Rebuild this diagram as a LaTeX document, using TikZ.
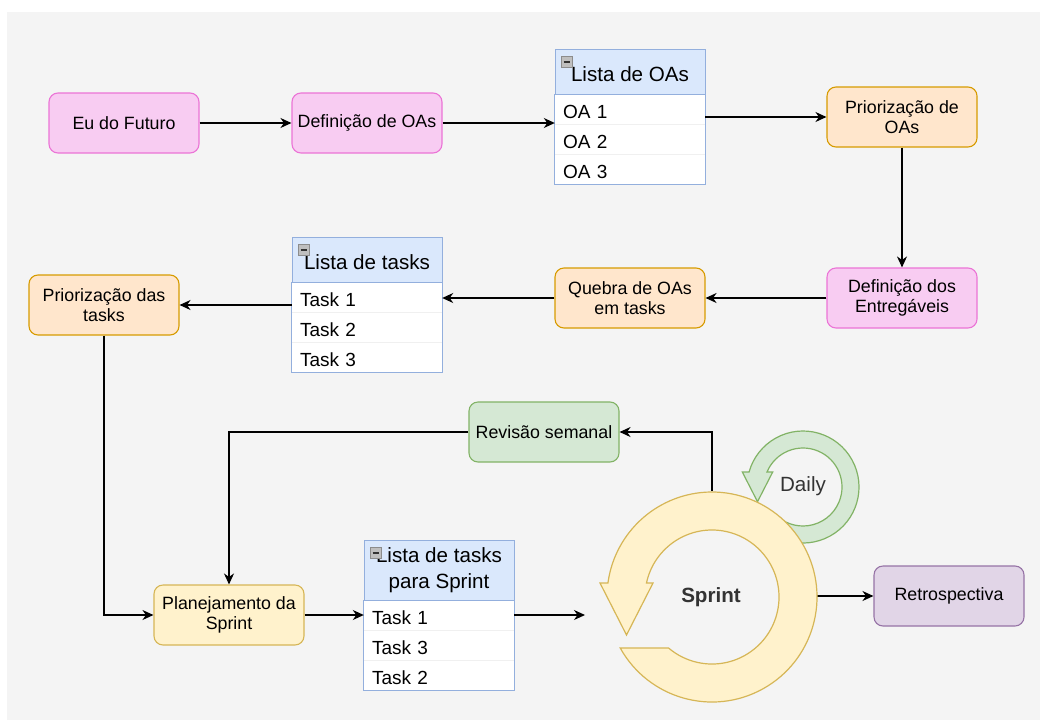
\documentclass[tikz,border=0pt]{standalone}
\usepackage{fontspec}
\setmainfont{Liberation Sans}
\usetikzlibrary{arrows.meta,calc}
\definecolor{bgG}{HTML}{F4F4F4}
\definecolor{pinkF}{HTML}{F8CCF2}
\definecolor{pinkD}{HTML}{EB74D6}
\definecolor{orangeF}{HTML}{FFE6CC}
\definecolor{orangeD}{HTML}{D79B00}
\definecolor{blueH}{HTML}{DAE8FC}
\definecolor{blueD}{HTML}{93AFDD}
\definecolor{greenF}{HTML}{D5E8D4}
\definecolor{greenD}{HTML}{82B366}
\definecolor{yellowF}{HTML}{FFF2CC}
\definecolor{yellowD}{HTML}{D6B656}
\definecolor{purpleF}{HTML}{E1D5E7}
\definecolor{purpleD}{HTML}{9673A6}
\definecolor{ringtext}{HTML}{333333}
\newcommand{\nodefont}{\fontsize{17.8}{20.5}\selectfont}
\newcommand{\rowfont}{\fontsize{19}{22}\selectfont}
\newcommand{\headfont}{\fontsize{20.6}{25}\selectfont}
\newcommand{\ringfont}{\fontsize{20.6}{24}\selectfont}
\begin{document}
\begin{tikzpicture}[x=1pt,y=-1pt,
  box/.style={rounded corners=9pt, minimum width=150pt, minimum height=60pt, align=center, font=\nodefont, line width=1.1pt, inner sep=0pt},
  pinkbox/.style={box, fill=pinkF, draw=pinkD},
  orangebox/.style={box, fill=orangeF, draw=orangeD},
  greenbox/.style={box, fill=greenF, draw=greenD},
  yellowbox/.style={box, fill=yellowF, draw=yellowD},
  purplebox/.style={box, fill=purpleF, draw=purpleD},
  lhead/.style={draw=blueD, fill=blueH, line width=1pt, minimum width=150pt, minimum height=45pt, inner sep=0pt, font=\headfont, text height=19.5pt, text depth=0pt},
  lrow/.style={fill=white, minimum width=150pt, minimum height=30pt, inner ysep=0pt, inner xsep=8pt, text width=134pt, align=left, font=\rowfont, text height=19.6pt, text depth=0pt},
  lsep/.style={draw=black!6, line width=0.8pt},
  lframe/.style={draw=blueD, line width=1pt},
  minusicon/.style={draw=black!45, fill=black!25, minimum size=11pt, inner sep=0pt, line width=0.6pt},
  conn/.style={line width=1.3pt, -{Stealth[length=11pt,width=10pt,inset=3.5pt]}},
  ring/.style={line width=1.2pt}
]
\useasboundingbox (0,0) rectangle (1040,720);
\fill[white] (0,0) rectangle (1040,720);
\fill[bgG] (7,12) rectangle (1040,720);

% top row
\node[pinkbox] (eu) at (124,123) {Eu do Futuro};
\node[pinkbox] (def) at (367,123) {Definição de OAs};

\node[lhead] (loah) at (630,71.5) {Lista de OAs};
\node[lrow] (loa1) at (630,109) {OA 1};
\node[lrow] (loa2) at (630,139) {OA 2};
\node[lrow] (loa3) at (630,169) {OA 3};
\draw[lsep] (loa1.south west) -- (loa1.south east);
\draw[lsep] (loa2.south west) -- (loa2.south east);
\draw[lframe] (loah.south west) rectangle (loa3.south east);
\node[minusicon] (m1) at ($(loah.north west)+(12.5,13.5)$) {};
\draw[line width=1.6pt, black!80] ($(m1.west)+(2.5pt,0)$) -- ($(m1.east)+(-2.5pt,0)$);

\node[orangebox] (prioa) at (902,117) {Priorização de\\OAs};

% second row
\node[pinkbox] (entreg) at (902,298) {Definição dos\\Entregáveis};
\node[orangebox] (quebra) at (630,298) {Quebra de OAs\\em tasks};

\node[lhead] (lth) at (367,259.5) {Lista de tasks};
\node[lrow] (lt1) at (367,297) {Task 1};
\node[lrow] (lt2) at (367,327) {Task 2};
\node[lrow] (lt3) at (367,357) {Task 3};
\draw[lsep] (lt1.south west) -- (lt1.south east);
\draw[lsep] (lt2.south west) -- (lt2.south east);
\draw[lframe] (lth.south west) rectangle (lt3.south east);
\node[minusicon] (m2) at ($(lth.north west)+(12.5,13.5)$) {};
\draw[line width=1.6pt, black!80] ($(m2.west)+(2.5pt,0)$) -- ($(m2.east)+(-2.5pt,0)$);

\node[orangebox] (ptasks) at (104,305) {Priorização das\\tasks};

% lower part
\node[greenbox] (rev) at (544,432) {Revisão semanal};
\node[yellowbox] (plan) at (229,615) {Planejamento da\\Sprint};

\node[draw=blueD, fill=blueH, line width=1pt, minimum width=150pt, minimum height=60pt, inner sep=0pt, font=\headfont] (lsh) at (439,570)
  {\raisebox{-4.5pt}{\begin{tabular}{@{}c@{}}Lista de tasks\\[1pt]para Sprint\end{tabular}}};
\node[lrow] (ls1) at (439,615) {Task 1};
\node[lrow] (ls2) at (439,645) {Task 3};
\node[lrow] (ls3) at (439,675) {Task 2};
\draw[lsep] (ls1.south west) -- (ls1.south east);
\draw[lsep] (ls2.south west) -- (ls2.south east);
\draw[lframe] (lsh.south west) rectangle (ls3.south east);
\node[minusicon] (m3) at ($(lsh.north west)+(12.5,13.5)$) {};
\draw[line width=1.6pt, black!80] ($(m3.west)+(2.5pt,0)$) -- ($(m3.east)+(-2.5pt,0)$);

\node[purplebox] (retro) at (949,596) {Retrospectiva};

\coordinate (sptop) at (712,491);
\coordinate (spright) at (817,596);
\coordinate (sfree) at (585,615);

% connectors
\draw[conn] (eu.east) -- (def.west);
\draw[conn] (def.east) -- (def.east -| loa1.west);
\draw[conn] (prioa.west -| loa1.east) -- (prioa.west);
\draw[conn] (prioa.south) -- (entreg.north);
\draw[conn] (entreg.west) -- (quebra.east);
\draw[conn] (quebra.west) -- (quebra.west -| lt1.east);
\draw[conn] (ptasks.east -| lt1.west) -- (ptasks.east);
\draw[conn] (ptasks.south) |- (plan.west);
\draw[conn] (rev.west) -| (plan.north);
\draw[conn] (sptop) |- (rev.east);
\draw[conn] (plan.east) -- (plan.east -| ls1.west);
\draw[conn] (plan.east -| ls1.east) -- (sfree);
\draw[conn] (spright) -- (retro.west);

% Daily ring
\begin{scope}[shift={(803,487)}]
  \draw[ring, fill=greenF, draw=greenD]
    (208.83:56pt) arc[start angle=208.83, end angle=524.46, radius=56pt]
    -- (-60.7pt,15pt) -- (-45.5pt,-14.7pt) -- (-30.3pt,15pt)
    -- (517.38:39pt) arc[start angle=517.38, end angle=223.8, radius=39pt] -- cycle;
\end{scope}

% Sprint ring
\begin{scope}[shift={(712,597)}]
  \draw[ring, fill=yellowF, draw=yellowD]
    (209.05:105pt) arc[start angle=209.05, end angle=532.34, radius=105pt]
    -- (-112pt,14pt) -- (-85.5pt,-38pt) -- (-59pt,14pt)
    -- (527.94:67pt) arc[start angle=527.94, end angle=229.56, radius=67pt] -- cycle;
\end{scope}

\node[font=\ringfont\bfseries, text=ringtext] (sprint) at (711,597) {Sprint};
\node[font=\ringfont, text=ringtext] (daily) at (803,486) {Daily};
\end{tikzpicture}
\end{document}
